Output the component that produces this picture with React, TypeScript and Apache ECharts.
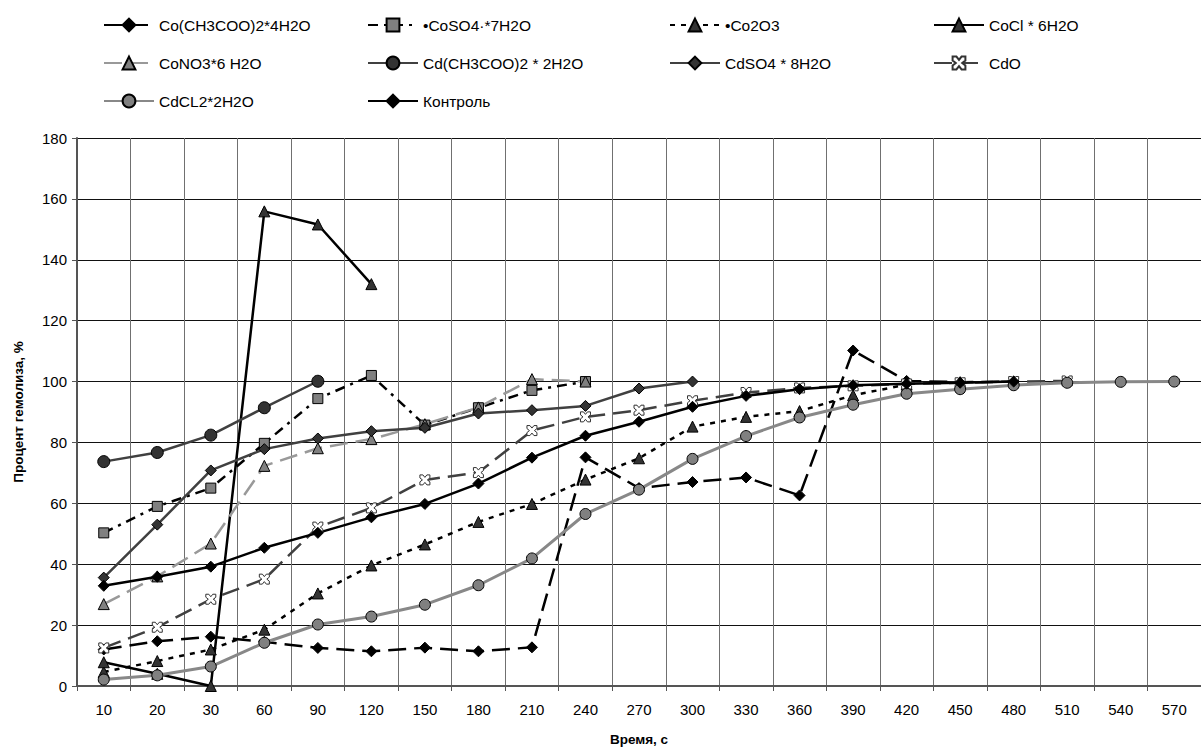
import React, { useEffect, useRef } from "react";
import * as echarts from "echarts";

const categories = ["10", "20", "30", "60", "90", "120", "150", "180", "210", "240", "270", "300", "330", "360", "390", "420", "450", "480", "510", "540", "570"];
const yTicks = { min: 0, max: 180, interval: 20 };

const coAcetate = [12.0, 14.7, 16.2, 14.5, 12.5, 11.4, 12.6, 11.4, 12.7, 75.1, 65.0, 67.0, 68.5, 62.6, 110.2, 100.2, 99.8, 100.0, null, null, null];
const coSulfate = [50.3, 59.0, 65.0, 79.7, 94.4, 102.0, 85.7, 91.4, 97.1, 100.0, null, null, null, null, null, null, null, null, null, null, null];
const co2o3 = [4.6, 8.2, 12.0, 18.5, 30.4, 39.6, 46.5, 53.9, 59.8, 67.8, 74.8, 85.2, 88.4, 90.3, 95.5, 99.0, null, null, null, null, null];
const coCl = [7.8, 4.0, 0, 155.9, 151.6, 132.0, null, null, null, null, null, null, null, null, null, null, null, null, null, null, null];
const coNO3 = [26.9, 36.0, 46.8, 72.3, 78.1, 81.1, 86.0, 91.5, 100.8, 100.0, null, null, null, null, null, null, null, null, null, null, null];
const cdAcetate = [73.7, 76.7, 82.4, 91.4, 100.1, null, null, null, null, null, null, null, null, null, null, null, null, null, null, null, null];
const cdSulfate = [35.6, 53.0, 70.8, 77.8, 81.3, 83.7, 84.8, 89.5, 90.6, 92.0, 97.7, 100.0, null, null, null, null, null, null, null, null, null];
const cdO = [12.5, 19.3, 28.5, 35.1, 52.2, 58.5, 67.7, 70.1, 83.9, 88.4, 90.6, 93.7, 96.4, 97.9, 98.6, 99.2, 99.6, 100.0, 100.2, null, null];
const cdCl2 = [2.1, 3.5, 6.4, 14.2, 20.2, 22.8, 26.7, 33.1, 41.9, 56.5, 64.5, 74.6, 82.1, 88.2, 92.4, 96.0, 97.5, 98.8, 99.6, 99.9, 100.0];
const control = [32.9, 35.9, 39.2, 45.4, 50.3, 55.4, 59.8, 66.5, 75.0, 82.2, 86.8, 91.7, 95.3, 97.5, 98.8, 99.3, 99.6, 100.0, null, null, null];

const names = [
  "Co(CH3COO)2*4H2O",
  "•CoSO4·*7H2O",
  "•Co2O3",
  "CoCl * 6H2O",
  "CoNO3*6 H2O",
  "Cd(CH3COO)2 * 2H2O",
  "CdSO4 * 8H2O",
  "CdO",
  "CdCL2*2H2O",
  "Контроль",
];

const FONT = "'Liberation Sans', Arial, sans-serif";
const X_SYMBOL = "path://M0,0 L3,0 L5,2.5 L7,0 L10,0 L10,3 L7.5,5 L10,7 L10,10 L7,10 L5,7.5 L3,10 L0,10 L0,7 L2.5,5 L0,3 Z";

export default function App() {
  const ref = useRef<HTMLDivElement>(null);
  useEffect(() => {
    if (!ref.current) return;
    const chart = echarts.init(ref.current, null, { renderer: "svg" });

    const mk = (
      name: string,
      data: (number | null)[],
      color: string,
      width: number,
      type: any,
      symbol: string,
      symbolSize: number,
      fill: string,
      border: string
    ) => ({
      name,
      type: "line",
      data,
      symbol,
      symbolSize,
      showSymbol: true,
      connectNulls: false,
      lineStyle: { color, width, type },
      itemStyle: { color: fill, borderColor: border, borderWidth: 1 },
      emphasis: { disabled: true },
    });

    const legendBase = {
      orient: "vertical" as const,
      top: 12,
      itemWidth: 50,
      itemHeight: 16,
      itemGap: 22,
      textStyle: { fontFamily: FONT, fontSize: 15.5, color: "#000" },
      selectedMode: false,
    };

    chart.setOption({
      animation: false,
      backgroundColor: "#fff",
      legend: [
        { ...legendBase, left: 98, data: [names[0], names[4], names[8]] },
        { ...legendBase, left: 362, data: [names[1], names[5], names[9]] },
        { ...legendBase, left: 664, data: [names[2], names[6]] },
        { ...legendBase, left: 928, data: [names[3], names[7]] },
      ],
      grid: { left: 77, top: 138, width: 1134, height: 551, containLabel: false },
      xAxis: {
        type: "category",
        data: categories,
        boundaryGap: true,
        name: "Время, с",
        nameLocation: "middle",
        nameGap: 46,
        nameTextStyle: { fontFamily: FONT, fontSize: 13.5, fontWeight: "bold", color: "#000" },
        axisLine: { lineStyle: { color: "#555", width: 2 } },
        axisTick: { show: true, alignWithLabel: false, length: 5, lineStyle: { color: "#555" } },
        axisLabel: { fontFamily: FONT, fontSize: 15, color: "#000", margin: 16, interval: 0 },
        splitLine: { show: true, interval: 0, lineStyle: { color: "#707070", width: 1 } },
      },
      yAxis: {
        type: "value",
        min: yTicks.min,
        max: yTicks.max,
        interval: yTicks.interval,
        name: "Процент гемолиза, %",
        nameLocation: "middle",
        nameRotate: 90,
        nameGap: 52,
        nameTextStyle: { fontFamily: FONT, fontSize: 13.5, fontWeight: "bold", color: "#000" },
        axisLine: { show: true, lineStyle: { color: "#555", width: 2 } },
        axisTick: { show: true, length: 5, lineStyle: { color: "#555" } },
        axisLabel: { fontFamily: FONT, fontSize: 15, color: "#000", margin: 10 },
        splitLine: { show: true, lineStyle: { color: "#111", width: 1 } },
      },
      series: [
        mk(names[0], coAcetate, "#000", 2.5, [18, 8], "diamond", 11, "#000", "#000"),
        mk(names[1], coSulfate, "#000", 2.5, [10, 6, 3, 6], "rect", 10, "#808080", "#000"),
        mk(names[2], co2o3, "#000", 2.5, [5, 6], "triangle", 11, "#333", "#000"),
        mk(names[3], coCl, "#000", 2.5, "solid", "triangle", 11, "#333", "#000"),
        mk(names[4], coNO3, "#999", 2.5, [18, 8], "triangle", 11, "#808080", "#000"),
        mk(names[5], cdAcetate, "#404040", 2.5, "solid", "circle", 12, "#333", "#000"),
        mk(names[6], cdSulfate, "#404040", 2.5, "solid", "diamond", 11, "#333", "#000"),
        mk(names[7], cdO, "#404040", 2.5, [18, 8], X_SYMBOL, 10, "#fff", "#333"),
        mk(names[8], cdCl2, "#888", 3, "solid", "circle", 11, "#808080", "#000"),
        mk(names[9], control, "#000", 2.5, "solid", "diamond", 11, "#000", "#000"),
      ],
    });
    return () => chart.dispose();
  }, []);

  return (
    <div
      ref={ref}
      style={{ position: "fixed", left: 0, top: 0, width: 1201, height: 751, background: "#fff" }}
    />
  );
}
